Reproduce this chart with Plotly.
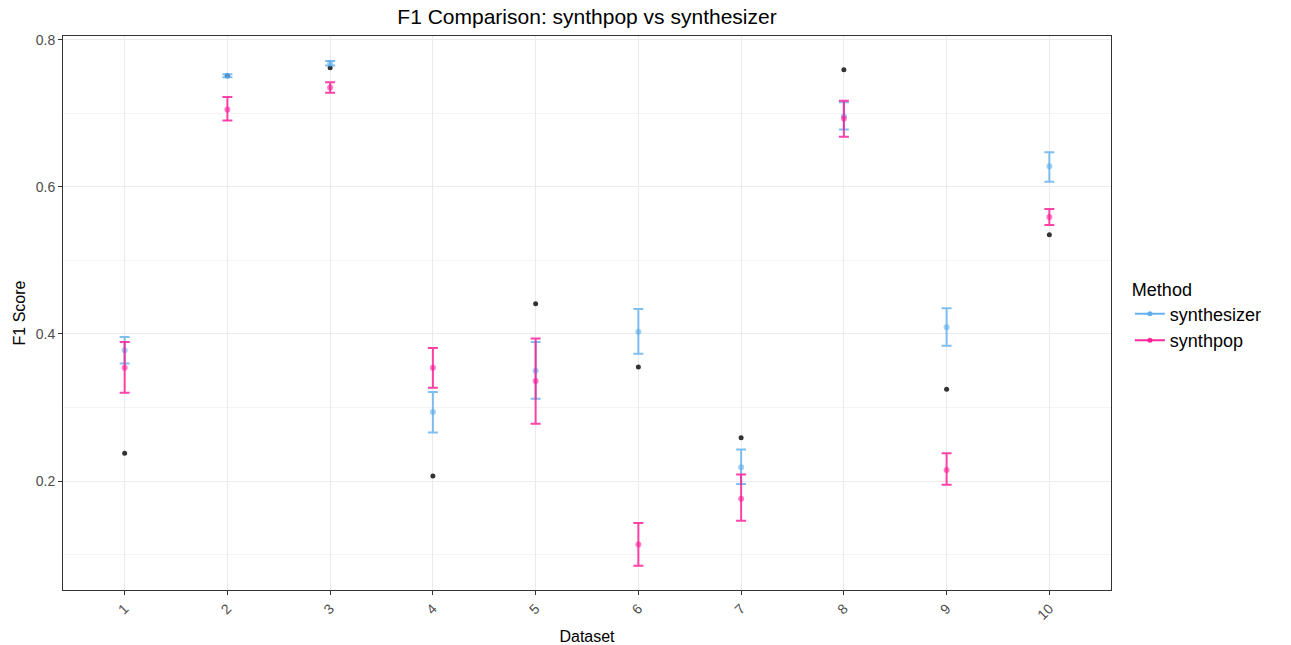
import plotly.graph_objects as go

datasets = [1, 2, 3, 4, 5, 6, 7, 8, 9, 10]
tick_labels = ["1", "2", "3", "4", "5", "6", "7", "8", "9", "10"]

synth_mean = [0.378, 0.751, 0.768, 0.294, 0.350, 0.403, 0.219, 0.696, 0.409, 0.628]
synth_lo = [0.360, 0.749, 0.765, 0.266, 0.312, 0.373, 0.196, 0.678, 0.384, 0.607]
synth_hi = [0.396, 0.753, 0.771, 0.321, 0.389, 0.434, 0.243, 0.715, 0.435, 0.647]

pop_mean = [0.354, 0.705, 0.735, 0.354, 0.336, 0.114, 0.176, 0.693, 0.215, 0.559]
pop_lo = [0.320, 0.690, 0.728, 0.327, 0.278, 0.085, 0.146, 0.668, 0.195, 0.548]
pop_hi = [0.389, 0.722, 0.742, 0.381, 0.394, 0.143, 0.209, 0.717, 0.238, 0.570]

original = [0.238, 0.751, 0.762, 0.207, 0.441, 0.355, 0.259, 0.759, 0.325, 0.535]

BLUE = "rgba(86,170,235,0.55)"
BLUE_LINE = "rgba(86,170,235,0.75)"
PINK = "rgba(255,20,147,0.55)"
PINK_LINE = "rgba(255,20,147,0.8)"

fig = go.Figure()

fig.add_trace(go.Scatter(
    x=datasets, y=original, mode="markers", showlegend=False,
    marker=dict(color="#333333", size=5), hoverinfo="skip"))


def add_series(name, mean, lo, hi, col, lcol):
    fig.add_trace(go.Scatter(
        x=datasets, y=mean, mode="markers", name=name, showlegend=False,
        marker=dict(color=col, size=6),
        error_y=dict(type="data", symmetric=False,
                     array=[h - m for h, m in zip(hi, mean)],
                     arrayminus=[m - l for m, l in zip(mean, lo)],
                     color=lcol, thickness=2, width=5),
    ))


add_series("synthesizer", synth_mean, synth_lo, synth_hi, BLUE, BLUE_LINE)
add_series("synthpop", pop_mean, pop_lo, pop_hi, PINK, PINK_LINE)

for name, col in [("synthesizer", "rgba(86,170,235,0.9)"), ("synthpop", "rgba(255,20,147,0.9)")]:
    fig.add_trace(go.Scatter(
        x=[None], y=[None], mode="lines+markers", name=name,
        line=dict(color=col, width=2), marker=dict(color=col, size=5)))

fig.update_layout(
    width=1291, height=645,
    margin=dict(l=63, r=180, t=36, b=55, autoexpand=False),
    paper_bgcolor="white", plot_bgcolor="white",
    font=dict(family="Liberation Sans, Arial, sans-serif", color="black"),
    title=dict(text="F1 Comparison: synthpop vs synthesizer", x=0.5, xanchor="center",
               xref="paper", y=0.985, yanchor="top",
               font=dict(size=21, color="black")),
    legend=dict(title=dict(text="Method", font=dict(size=18)),
                font=dict(size=18), x=1.018, xanchor="left", y=0.495, yanchor="middle",
                tracegroupgap=0, itemwidth=30),
    showlegend=True,
)

fig.update_xaxes(
    range=[0.4, 10.6], tickmode="array", tickvals=datasets, ticktext=tick_labels,
    tickangle=-45, ticks="outside", ticklen=4, tickcolor="#333333",
    tickfont=dict(size=14, color="#4D4D4D"),
    showgrid=True, gridcolor="#EBEBEB", gridwidth=1,
    showline=True, linecolor="#333333", linewidth=1, mirror=True,
    zeroline=False, automargin=False,
    title=dict(text="Dataset", font=dict(size=16, color="black"), standoff=8),
)
fig.update_yaxes(
    range=[0.052, 0.805], tickmode="array", tickvals=[0.2, 0.4, 0.6, 0.8],
    ticktext=["0.2", "0.4", "0.6", "0.8"],
    ticks="outside", ticklen=4, tickcolor="#333333",
    tickfont=dict(size=14, color="#4D4D4D"),
    showgrid=True, gridcolor="#EBEBEB", gridwidth=1,
    minor=dict(tickmode="array", tickvals=[0.1, 0.3, 0.5, 0.7], showgrid=True,
               gridcolor="#F3F3F3", gridwidth=1, ticks=""),
    showline=True, linecolor="#333333", linewidth=1, mirror=True,
    zeroline=False, automargin=False,
    title=dict(text="F1 Score", font=dict(size=16, color="black"), standoff=6),
)

fig.write_html("out.html")
